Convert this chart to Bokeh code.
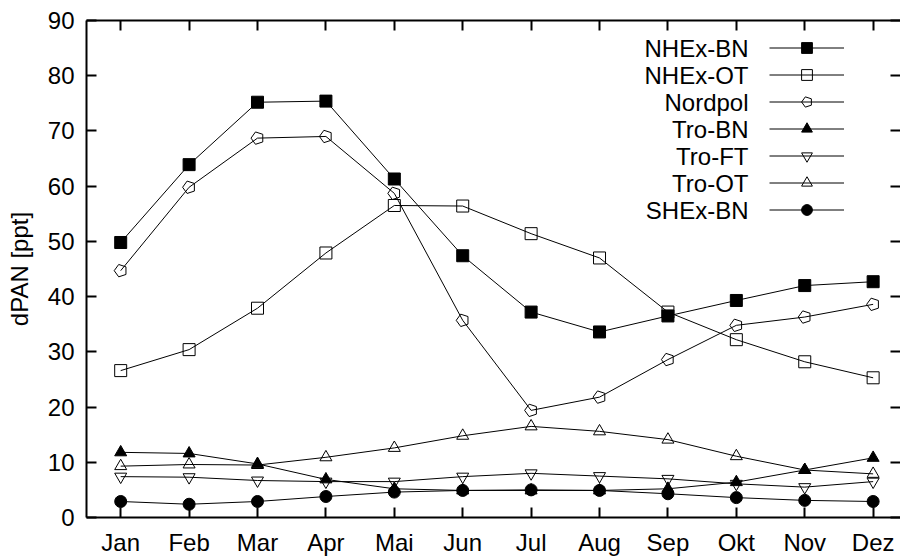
import math
from bokeh.plotting import figure
from bokeh.models import (FixedTicker, LinearAxis, Legend, LegendItem, ColumnDataSource, Label)
from bokeh.core.properties import value
from bokeh.embed import file_html
from bokeh.resources import INLINE

months = ["Jan", "Feb", "Mar", "Apr", "Mai", "Jun", "Jul", "Aug", "Sep", "Okt", "Nov", "Dez"]
month_pos = list(range(1, 13))

nhex_bn = [49.8, 63.9, 75.2, 75.4, 61.3, 47.4, 37.2, 33.6, 36.5, 39.3, 42.0, 42.7]
nhex_ot = [26.6, 30.4, 37.9, 47.9, 56.5, 56.4, 51.4, 47.0, 37.2, 32.2, 28.2, 25.3]
nordpol = [44.7, 59.8, 68.7, 69.0, 58.7, 35.7, 19.4, 21.8, 28.6, 34.8, 36.3, 38.6]
tro_bn = [11.8, 11.6, 9.7, 6.9, 5.2, 4.9, 4.9, 4.9, 5.2, 6.4, 8.6, 10.8]
tro_ft = [7.4, 7.3, 6.7, 6.5, 6.5, 7.4, 8.0, 7.5, 7.0, 6.1, 5.5, 6.5]
tro_ot = [9.3, 9.6, 9.5, 10.9, 12.6, 14.8, 16.5, 15.6, 14.1, 11.1, 8.6, 7.9]
shex_bn = [2.9, 2.4, 2.9, 3.8, 4.6, 4.9, 5.0, 4.9, 4.3, 3.6, 3.1, 2.9]

series_names = ["NHEx-BN", "NHEx-OT", "Nordpol", "Tro-BN", "Tro-FT", "Tro-OT", "SHEx-BN"]
series_values = [nhex_bn, nhex_ot, nordpol, tro_bn, tro_ft, tro_ot, shex_bn]
series_markers = ["square", "square", "pentagon", "triangle", "inverted_triangle", "triangle", "circle"]
series_filled = [True, False, False, True, False, False, True]

y_ticks = list(range(0, 100, 10))

FONT = "Liberation Sans"
FS = "24px"

p = figure(width=900, height=559, x_range=(0.5, 12.4), y_range=(0, 90),
           output_backend="svg", toolbar_location=None,
           min_border_left=86, min_border_top=20, min_border_bottom=42, min_border_right=0)
p.outline_line_color = None
p.xgrid.visible = False
p.ygrid.visible = False
p.background_fill_color = "white"
p.border_fill_color = "white"

def style_axis(ax, labels=True):
    ax.axis_line_color = "black"
    ax.axis_line_width = 2
    ax.major_tick_line_color = "black"
    ax.major_tick_line_width = 2
    ax.major_tick_in = 10
    ax.major_tick_out = 0
    ax.minor_tick_line_color = None
    ax.major_label_text_font = FONT
    if labels:
        ax.major_label_text_font_size = FS
        ax.major_label_text_color = "black"
    else:
        ax.major_label_text_font_size = "1px"
        ax.major_label_text_color = None
        ax.major_label_standoff = 0

xa = p.xaxis[0]
xa.ticker = FixedTicker(ticks=month_pos)
xa.major_label_overrides = {i: m for i, m in zip(month_pos, months)}
style_axis(xa)
xa.major_label_standoff = 11

ya = p.yaxis[0]
ya.ticker = FixedTicker(ticks=y_ticks)
style_axis(ya)
ya.major_label_standoff = 12
ya.axis_label = "dPAN [ppt]"
ya.axis_label_text_font = FONT
ya.axis_label_text_font_size = FS
ya.axis_label_text_font_style = "normal"
ya.axis_label_text_color = "black"
ya.axis_label_standoff = 12

top = LinearAxis(ticker=FixedTicker(ticks=month_pos))
style_axis(top, labels=False)
p.add_layout(top, "above")

right = LinearAxis(ticker=FixedTicker(ticks=y_ticks))
style_axis(right, labels=False)
right.axis_line_color = None
p.add_layout(right, "right")

items = []
for name, vals, mk, filled in zip(series_names, series_values, series_markers, series_filled):
    src = ColumnDataSource(dict(x=month_pos, y=vals))
    ln = p.line("x", "y", source=src, line_color="black", line_width=1)
    fill = "black" if filled else None
    if mk == "pentagon":
        try:
            mr = p.ngon("x", "y", source=src, radius=6.5, radius_units="screen", n=5,
                        angle=math.pi / 2, fill_color=None, line_color="black", line_width=1)
        except Exception:
            mr = p.scatter("x", "y", source=src, marker="hex", size=12,
                           fill_color=None, line_color="black", line_width=1)
    else:
        mr = p.scatter("x", "y", source=src, marker=mk, size=12,
                       fill_color=fill, line_color="black", line_width=1)
    items.append(LegendItem(label=value(""), renderers=[ln, mr]))

# legend sample glyphs (line + marker); the texts are right-aligned labels to their left
legend = Legend(items=items, location=(683, 294), glyph_width=75, glyph_height=27,
                label_height=27, label_width=0, label_standoff=0, spacing=0, padding=0, margin=0,
                border_line_color=None, background_fill_alpha=0,
                label_text_font=FONT, label_text_font_size="10px")
p.add_layout(legend, "center")

for i, name in enumerate(series_names):
    p.add_layout(Label(x=662, y=469.3 - 27 * i, x_units="screen", y_units="screen",
                       text=name, text_align="right", text_baseline="middle",
                       text_font=FONT, text_font_size=FS, text_color="black"))

open("out.html", "w").write(file_html(p, INLINE))
